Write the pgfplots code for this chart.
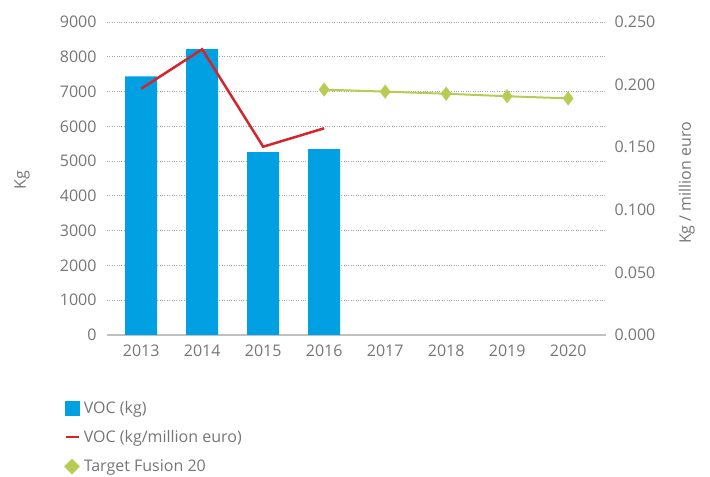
\documentclass[border=0pt]{standalone}
\usepackage{pgfplots}
\pgfplotsset{compat=1.18}
\usepackage{fontspec}
\setmainfont{Open Sans}
\definecolor{vocblue}{RGB}{0,160,226}
\definecolor{vocred}{RGB}{211,38,44}
\definecolor{vocgreen}{RGB}{183,204,82}
\definecolor{txtgray}{RGB}{118,118,118}
\definecolor{gridgray}{RGB}{165,165,165}
\begin{document}
\begin{tikzpicture}[font=\fontsize{16bp}{19bp}\selectfont]
\useasboundingbox (-107bp,-142bp) rectangle (603bp,335bp);
\pgfplotsset{common/.style={
  width=499bp, height=313bp, scale only axis,
  xmin=-0.56, xmax=7.62,
  xtick={0,...,7},
  major tick length=0pt,
  tick label style={text=txtgray, font=\fontsize{16bp}{19bp}\selectfont},
  label style={text=txtgray, font=\fontsize{16bp}{19bp}\selectfont},
  /pgf/number format/assume math mode=true,
}}
\begin{axis}[common,
  ymin=0, ymax=9000, ytick={0,1000,...,9000},
  axis x line*=bottom, axis y line*=left,
  x axis line style={draw=gridgray!70, line width=1.3bp, -},
  y axis line style={draw=none},
  ymajorgrids, grid style={draw=gridgray, dotted, line width=0.8bp},
  xticklabels={2013,2014,2015,2016,2017,2018,2019,2020},
  xticklabel style={yshift=-6bp},
  yticklabel style={/pgf/number format/1000 sep={}, xshift=-7bp},
  ylabel={Kg},
  ylabel style={at={(axis description cs:-0.170,0.495)}, anchor=center},
]
\addplot[ybar, bar width=0.525, fill=vocblue, draw=none] coordinates {(0,7440) (1,8220) (2,5260) (3,5345)};
\end{axis}
\begin{axis}[common,
  ymin=0, ymax=0.25, ytick={0,0.05,0.1,0.15,0.2,0.25},
  axis x line=none, axis y line*=right,
  y axis line style={draw=none},
  xticklabels={},
  yticklabel style={/pgf/number format/.cd, fixed, fixed zerofill, precision=3, /tikz/.cd, xshift=5bp},
  ylabel={Kg / million euro},
  ylabel style={at={(axis description cs:1.162,0.486)}, anchor=center, rotate=0},
  legend style={at={(axis description cs:-0.086,-0.21)}, anchor=north west, draw=none, fill=none,
    font=\fontsize{16bp}{19bp}\selectfont, text=txtgray, row sep=15bp, inner sep=0pt,
    nodes={inner xsep=4bp, inner ysep=0pt}},
  legend cell align=left,
]
\addlegendimage{legend image code/.code={\fill[vocblue] (0bp,-7bp) rectangle (14bp,7bp);}}
\addlegendentry{VOC (kg)}
\addplot[vocred, line width=2.5bp, mark=none, legend image code/.code={\draw[vocred, line width=2.5bp] (0.5bp,0bp) -- (13.5bp,0bp);}]
  coordinates {(0,0.1967) (1,0.2282) (2,0.1504) (3,0.1651)};
\addlegendentry{VOC (kg/million euro)}
\addplot[vocgreen, line width=2bp, mark=diamond*, mark size=5.5bp, mark options={fill=vocgreen, draw=vocgreen},
  legend image code/.code={\fill[vocgreen] (7bp,-6.5bp) -- (13.5bp,0bp) -- (7bp,6.5bp) -- (0.5bp,0bp) -- cycle;}]
  coordinates {(3,0.1960) (4,0.1944) (5,0.1927) (6,0.1907) (7,0.1890)};
\addlegendentry{Target Fusion 20}
\end{axis}
\end{tikzpicture}
\end{document}
